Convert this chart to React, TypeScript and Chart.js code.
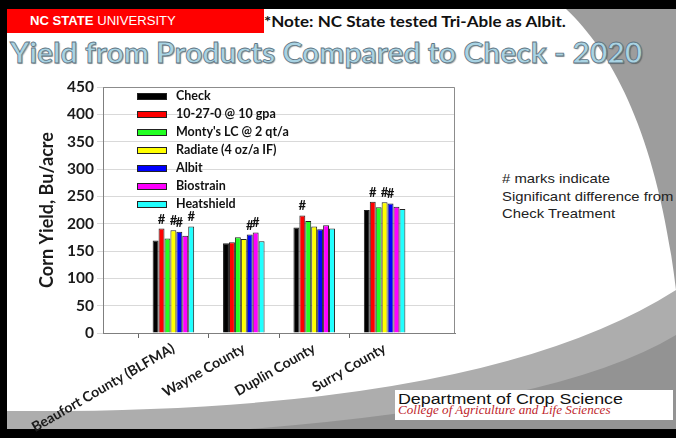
import React, { useEffect, useRef } from 'react';
import { Chart, registerables } from 'chart.js';

Chart.register(...registerables);

// ---------- data ----------
const CATEGORIES = ['Beaufort County (BLFMA)', 'Wayne County', 'Duplin County', 'Surry County'];
const SERIES_NAMES = ['Check', '10-27-0 @ 10 gpa', "Monty's LC @ 2 qt/a", 'Radiate (4 oz/a IF)', 'Albit', 'Biostrain', 'Heatshield'];
const SERIES_COLORS = ['#000000', '#ff0000', '#22ff22', '#ffff00', '#0000ff', '#ff00ff', '#22ffff'];

const CHECK = [169, 164, 193, 225];
const NPK_10_27_0 = [191, 166, 215, 240];
const MONTYS_LC = [173, 175, 205, 230];
const RADIATE = [188, 172, 195, 239];
const ALBIT = [185, 180, 190, 237];
const BIOSTRAIN = [178, 184, 197, 231];
const HEATSHIELD = [195, 168, 191, 227];
const SERIES_VALUES = [CHECK, NPK_10_27_0, MONTYS_LC, RADIATE, ALBIT, BIOSTRAIN, HEATSHIELD];

// '#' significance marks (1 = significantly different from Check)
const SIG_CHECK = [0, 0, 0, 0];
const SIG_10_27_0 = [1, 0, 1, 1];
const SIG_MONTYS_LC = [0, 0, 0, 0];
const SIG_RADIATE = [1, 0, 0, 1];
const SIG_ALBIT = [1, 1, 0, 1];
const SIG_BIOSTRAIN = [0, 1, 0, 0];
const SIG_HEATSHIELD = [1, 0, 0, 0];
const SIG_MARKS = [SIG_CHECK, SIG_10_27_0, SIG_MONTYS_LC, SIG_RADIATE, SIG_ALBIT, SIG_BIOSTRAIN, SIG_HEATSHIELD];

const Y_MIN = 0;
const Y_MAX = 450;
const Y_STEP = 50;
const Y_TITLE = 'Corn Yield, Bu/acre';

// x axis: one empty slot on each side of the counties
const X_LABELS = ['', ...CATEGORIES, ''];

const extrasPlugin = {
  id: 'slideExtras',
  afterDatasetsDraw(chart: any) {
    const { ctx, chartArea } = chart;
    ctx.save();
    // plot area frame (top & right)
    ctx.strokeStyle = '#8c8c8c';
    ctx.lineWidth = 1;
    ctx.beginPath();
    ctx.moveTo(chartArea.left, Math.round(chartArea.top) + 0.5);
    ctx.lineTo(Math.round(chartArea.right) - 0.5, Math.round(chartArea.top) + 0.5);
    ctx.lineTo(Math.round(chartArea.right) - 0.5, chartArea.bottom);
    ctx.stroke();

    // significance marks
    ctx.font = 'bold 13px Lato';
    ctx.fillStyle = '#111';
    ctx.textAlign = 'center';
    ctx.textBaseline = 'alphabetic';
    chart.data.datasets.forEach((_ds: any, di: number) => {
      const meta = chart.getDatasetMeta(di);
      const sig = SIG_MARKS[di];
      meta.data.forEach((bar: any, i: number) => {
        const ci = i - 1;
        if (ci < 0 || ci >= CATEGORIES.length) return;
        if (sig[ci]) ctx.fillText('#', bar.x, bar.y - 5);
      });
    });

    // legend
    const bx = chartArea.left + 34;
    const tx = chartArea.left + 73;
    ctx.font = 'bold 12.5px Lato';
    ctx.textAlign = 'left';
    ctx.textBaseline = 'middle';
    SERIES_NAMES.forEach((name, i) => {
      const cy = chartArea.top + 9 + i * 18;
      ctx.fillStyle = SERIES_COLORS[i];
      ctx.fillRect(bx, Math.round(cy - 3.5), 30, 7);
      ctx.strokeStyle = '#222';
      ctx.lineWidth = 1;
      ctx.strokeRect(bx + 0.5, Math.round(cy - 3.5) + 0.5, 29, 6);
      ctx.fillStyle = '#111';
      ctx.fillText(name, tx, cy);
    });
    ctx.restore();
  },
};

function YieldChart() {
  const ref = useRef<HTMLCanvasElement | null>(null);
  useEffect(() => {
    if (!ref.current) return;
    const datasets = SERIES_NAMES.map((name, i) => ({
      label: name,
      data: [null, ...SERIES_VALUES[i], null],
      backgroundColor: SERIES_COLORS[i],
      borderColor: '#222',
      borderWidth: 1,
      categoryPercentage: 0.59,
      barPercentage: 1.0,
    }));
    const chart = new Chart(ref.current, {
      type: 'bar',
      data: { labels: X_LABELS, datasets },
      options: {
        animation: false,
        responsive: false,
        maintainAspectRatio: false,
        layout: { padding: { top: 27, right: 15, left: 0, bottom: 0 } },
        plugins: { legend: { display: false }, tooltip: { enabled: false } },
        scales: {
          x: {
            offset: false,
            grid: {
              drawOnChartArea: false,
              tickLength: 5,
              color: (c: any) => (c.index === 0 || c.index === X_LABELS.length - 1 ? 'rgba(0,0,0,0)' : '#666'),
            },
            border: { color: '#7f7f7f', width: 1 },
            ticks: {
              autoSkip: false,
              minRotation: 30,
              maxRotation: 30,
              padding: 2,
              color: '#1a1a1a',
              font: { family: 'Lato', weight: 'bold', size: 14 },
            },
            afterFit: (s: any) => { s.height = 105; },
          },
          y: {
            min: Y_MIN,
            max: Y_MAX,
            grid: { color: '#d9d9d9', tickLength: 6, lineWidth: 1 },
            border: { color: '#7f7f7f', width: 1 },
            ticks: {
              stepSize: Y_STEP,
              padding: 3,
              color: '#1a1a1a',
              font: { family: 'Lato', weight: 'bold', size: 15.5 },
            },
            title: {
              display: true,
              text: Y_TITLE,
              color: '#1a1a1a',
              font: { family: 'Lato', weight: 'bold', size: 18 },
              padding: { top: 36, bottom: 0 },
            },
            afterFit: (s: any) => { s.width = 103; },
          },
        },
      },
      plugins: [extrasPlugin],
    });
    return () => chart.destroy();
  }, []);
  return (
    <canvas
      ref={ref}
      width={470}
      height={378}
      style={{ position: 'absolute', left: 0, top: 60, width: 470, height: 378 }}
    />
  );
}

const stretch = (sx: number) => ({ transform: `scaleX(${sx})`, transformOrigin: 'left top' });

export default function App() {
  return (
    <div style={{ position: 'relative', width: 676, height: 438, overflow: 'hidden', background: '#000' }}>
      <style>{'body{margin:0}'}</style>
      <svg width={676} height={438} style={{ position: 'absolute', left: 0, top: 0 }}>
        <rect x={7} y={9} width={669} height={420} fill="#ffffff" />
        <path d="M566,9 C615,55 658,140 676,290 L676,9 Z" fill="#9d9d9d" />
        <path d="M7,411 Q480,415 676,290 L676,429 L7,429 Z" fill="#adadad" />
        <path d="M250,429 Q560,405 676,335 L676,429 Z" fill="#939393" />
      </svg>
      <div style={{ position: 'absolute', left: 7, top: 9, width: 257, height: 24, background: '#ff0000' }} />
      <div
        style={{
          position: 'absolute', left: 30, top: 13.6, lineHeight: '13.5px', fontSize: 13.5,
          fontFamily: '"Liberation Sans", Arial, sans-serif', color: '#fff', whiteSpace: 'nowrap',
          ...stretch(0.97),
        }}
      >
        <b>NC STATE</b> UNIVERSITY
      </div>
      <div
        style={{
          position: 'absolute', left: 264, top: 13.5, lineHeight: '15.5px', fontSize: 15.5, fontWeight: 700,
          fontFamily: 'Lato, sans-serif', color: '#111', whiteSpace: 'nowrap',
          ...stretch(1.1),
        }}
      >
        *Note: NC State tested Tri-Able as Albit.
      </div>
      <div
        style={{
          position: 'absolute', left: 10, top: 37, lineHeight: '29px', fontSize: 29, fontWeight: 700,
          fontFamily: 'Lato, sans-serif', color: '#a9d3e3', whiteSpace: 'nowrap',
          WebkitTextStroke: '0.8px #5f7583', textShadow: '1px 1px 1px rgba(0,0,0,0.35)',
          ...stretch(1.035),
        }}
      >
        Yield from Products Compared to Check - 2020
      </div>
      <YieldChart />
      <div
        style={{
          position: 'absolute', left: 502, top: 170, lineHeight: '17.7px', fontSize: 13.5,
          fontFamily: '"Liberation Sans", Arial, sans-serif', color: '#222', whiteSpace: 'nowrap',
          ...stretch(1.1),
        }}
      >
        # marks indicate<br />Significant difference from<br />Check Treatment
      </div>
      <div style={{ position: 'absolute', left: 395, top: 390, width: 278, height: 30, background: '#fff' }} />
      <div
        style={{
          position: 'absolute', left: 398, top: 391, lineHeight: '15.5px', fontSize: 15.5,
          fontFamily: '"Liberation Sans", Arial, sans-serif', color: '#111', whiteSpace: 'nowrap',
          ...stretch(1.15),
        }}
      >
        Department of Crop Science
      </div>
      <div
        style={{
          position: 'absolute', left: 398, top: 404, lineHeight: '12.5px', fontSize: 12.5, fontStyle: 'italic',
          fontFamily: '"Liberation Serif", "Times New Roman", serif', color: '#c0272d', whiteSpace: 'nowrap',
          ...stretch(1.05),
        }}
      >
        College of Agriculture and Life Sciences
      </div>
    </div>
  );
}
